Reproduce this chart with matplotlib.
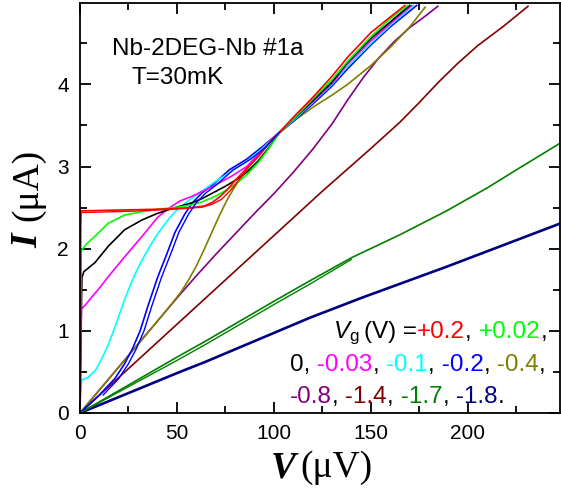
import matplotlib
matplotlib.use('Agg')
import matplotlib.pyplot as plt

plt.rcParams['font.family'] = ['Liberation Sans', 'DejaVu Sans']
plt.rcParams['mathtext.fontset'] = 'custom'
plt.rcParams['mathtext.it'] = 'Liberation Sans:italic'
plt.rcParams['mathtext.rm'] = 'Liberation Sans'

# gate voltages (V) and their colours
vg_labels = ['+0.2', '+0.02', '0', '-0.03', '-0.1', '-0.2', '-0.4', '-0.8', '-1.4', '-1.7', '-1.8']
vg_colors = ['#ff0000', '#00ff00', '#000000', '#ff00ff', '#00ffff', '#0000ff',
             '#808000', '#800080', '#800000', '#008000', '#000080']

# I-V curves: V in uV, I in uA
V_p02 = [0, 0.4, 0.6, 10, 20, 30, 40, 50, 58, 64, 68, 72, 76, 80, 86, 92, 98, 103, 110, 120, 130, 138, 150, 160, 167.5]
I_p02 = [0, 2.3, 2.46, 2.465, 2.47, 2.475, 2.48, 2.49, 2.5, 2.52, 2.56, 2.63, 2.72, 2.83, 2.98, 3.12, 3.3, 3.42, 3.6, 3.84, 4.1, 4.33, 4.63, 4.82, 4.96]
V_p02_b = [0.8, 10, 25, 40, 55, 63, 68, 73, 78, 86]
I_p02_b = [2.44, 2.445, 2.455, 2.47, 2.49, 2.505, 2.54, 2.6, 2.72, 2.96]

V_p002 = [0, 0.3, 0.6, 3, 7.7, 14.6, 23, 32, 40, 49, 57, 63, 70, 76, 81, 86, 92, 98, 103, 110, 120, 130, 138, 150, 160, 169]
I_p002 = [0, 1.0, 1.97, 2.05, 2.15, 2.31, 2.41, 2.45, 2.48, 2.5, 2.53, 2.57, 2.64, 2.72, 2.8, 2.9, 3.05, 3.24, 3.42, 3.58, 3.82, 4.06, 4.28, 4.58, 4.8, 4.96]

V_0 = [0, 0.5, 1, 2, 7.7, 14.6, 23, 32, 40, 49, 58, 63, 68.6, 75, 80, 86, 92, 98, 103, 110, 120, 130, 137.6, 150, 160, 170]
I_0 = [0, 1.0, 1.65, 1.72, 1.83, 2.03, 2.23, 2.35, 2.43, 2.5, 2.56, 2.61, 2.68, 2.76, 2.83, 2.93, 3.07, 3.25, 3.42, 3.58, 3.8, 4.03, 4.26, 4.56, 4.76, 4.96]

V_m003 = [0, 0.3, 0.8, 3, 6, 10, 14.6, 23, 32, 40, 45, 51.5, 58, 68.6, 78, 86, 94, 103, 110, 120, 130, 137.6, 150, 160, 171]
I_m003 = [0, 0.6, 1.27, 1.32, 1.41, 1.52, 1.66, 1.9, 2.15, 2.38, 2.48, 2.58, 2.64, 2.76, 2.88, 3.0, 3.2, 3.42, 3.57, 3.79, 4.01, 4.24, 4.53, 4.74, 4.96]

V_m01 = [0, 0.3, 0.8, 4, 8, 11, 14, 17, 20, 23, 26, 29, 32, 36, 40, 45, 49, 54, 58, 64, 70, 78, 86, 94, 103, 110, 120, 130, 137.6, 150, 160, 172]
I_m01 = [0, 0.2, 0.4, 0.43, 0.52, 0.65, 0.8, 0.98, 1.18, 1.38, 1.56, 1.72, 1.86, 2.03, 2.18, 2.34, 2.45, 2.55, 2.62, 2.72, 2.82, 2.94, 3.06, 3.22, 3.42, 3.56, 3.78, 4.0, 4.21, 4.5, 4.72, 4.96]

V_m02 = [0, 10, 18, 23, 27, 31, 35, 40, 45, 49, 54, 58, 63, 68.6, 77, 86, 94, 103, 110, 120, 130, 137.6, 150, 160, 173.6]
I_m02 = [0, 0.22, 0.42, 0.6, 0.78, 1.0, 1.3, 1.65, 1.95, 2.2, 2.42, 2.56, 2.68, 2.78, 2.96, 3.09, 3.24, 3.42, 3.55, 3.76, 3.98, 4.18, 4.48, 4.7, 4.96]
V_m02_b = [12, 20, 25, 29, 33, 37, 42, 47, 51, 56, 60, 65, 70.5, 79, 88, 96, 103]
I_m02_b = [0.22, 0.42, 0.6, 0.78, 1.0, 1.3, 1.65, 1.95, 2.2, 2.42, 2.56, 2.68, 2.78, 2.96, 3.09, 3.24, 3.42]

V_m04 = [0, 20, 40, 48, 52, 56, 60, 64, 68, 72, 76, 80, 85, 90, 95, 100, 105, 110, 120, 130, 138, 150, 160, 170, 178]
I_m04 = [0, 0.56, 1.12, 1.35, 1.47, 1.62, 1.79, 1.99, 2.2, 2.41, 2.6, 2.76, 2.93, 3.08, 3.22, 3.35, 3.45, 3.55, 3.72, 3.87, 4.0, 4.23, 4.45, 4.7, 4.94]

V_m08 = [0, 20, 40, 50, 60, 70, 80, 90, 100, 110, 120, 130, 138, 146, 154, 162, 170, 178, 184.5]
I_m08 = [0, 0.56, 1.12, 1.4, 1.67, 1.93, 2.18, 2.43, 2.67, 2.93, 3.21, 3.52, 3.81, 4.08, 4.32, 4.52, 4.69, 4.83, 4.95]

V_m14 = [0, 25, 50, 75, 100, 125, 150, 165, 175, 185, 195, 205, 218, 231]
I_m14 = [0, 0.54, 1.08, 1.62, 2.16, 2.7, 3.22, 3.54, 3.78, 4.03, 4.26, 4.47, 4.7, 4.95]

V_m17 = [0, 50, 64.4, 100, 118.6, 140, 165, 189, 210, 223, 248]
I_m17 = [0, 0.68, 0.87, 1.36, 1.61, 1.89, 2.17, 2.46, 2.74, 2.93, 3.29]
V_m17_b = [0, 50, 64.4, 100, 118.6, 140]
I_m17_b = [0, 0.64, 0.83, 1.32, 1.57, 1.87]

V_m18 = [0, 51.5, 64.4, 118.6, 145, 189, 248]
I_m18 = [0, 0.5, 0.62, 1.16, 1.4, 1.78, 2.31]

curves = [(V_p02, I_p02), (V_p002, I_p002), (V_0, I_0), (V_m003, I_m003), (V_m01, I_m01),
          (V_m02, I_m02), (V_m04, I_m04), (V_m08, I_m08), (V_m14, I_m14), (V_m17, I_m17), (V_m18, I_m18)]
second_sweeps = [(V_p02_b, I_p02_b, 0), (V_m02_b, I_m02_b, 5), (V_m17_b, I_m17_b, 9)]

fig = plt.figure(figsize=(5.61, 4.91), dpi=100)
ax = fig.add_axes([80/561, 1-413/491, 480/561, 410/491])

for k in range(len(curves)-1, -1, -1):
    v, i = curves[k]
    lw = 1.9 if k == 10 else 1.2
    ax.plot(v, i, color=vg_colors[k], lw=lw)
for v, i, k in second_sweeps:
    ax.plot(v, i, color=vg_colors[k], lw=1.0)

ax.set_xlim(0, 247.5)
ax.set_ylim(0, 4.99)
ax.set_xticks([0, 50, 100, 150, 200])
ax.set_xticks([25, 75, 125, 175, 225], minor=True)
ax.set_yticks([0, 1, 2, 3, 4])
ax.set_yticks([0.5, 1.5, 2.5, 3.5, 4.5], minor=True)
ax.tick_params(which='both', direction='in', top=True, right=True, width=1.3, labelsize=15)
ax.tick_params(which='major', length=8, pad=8)
ax.tick_params(which='minor', length=5)
for s in ax.spines.values():
    s.set_linewidth(1.3)

# axis labels
fig.text(271/561, 1-477/491, 'V', family='Liberation Serif', style='italic', weight='bold', size=27, va='baseline')
fig.text(300/561, 1-477/491, '(\u03bcV)', family='Liberation Serif', size=27, va='baseline')
fig.text(37/561, 1-248/491, 'I', family='Liberation Serif', style='italic', weight='bold', size=27,
         rotation=90, rotation_mode='anchor', va='baseline', ha='left')
fig.text(37/561, 1-221/491, '(\u03bcA)', family='Liberation Serif', size=27,
         rotation=90, rotation_mode='anchor', va='baseline', ha='left')

fig.text(112/561, 1-55/491, 'Nb-2DEG-Nb #1a', size=17.5, va='baseline')
fig.text(131/561, 1-84/491, 'T=30mK', size=17.5, va='baseline')

# coloured gate-voltage list: first row at fixed x positions, other rows chained
row1 = [(333, '$V_\\mathrm{g}$', 'k'), (364, '(V) =', 'k'), (417, '+0.2', vg_colors[0]),
        (465, ',', 'k'), (479, '+0.02', vg_colors[1]), (541, ',', 'k')]
for x, s, c in row1:
    fig.text(x/561, 1-338/491, s, color=c, size=17.5, va='baseline', ha='left')

rows = [
    (290, 371, [('0,', 'k'), (' -0.03', vg_colors[3]), (',', 'k'), (' -0.1', vg_colors[4]), (',', 'k'),
                (' -0.2', vg_colors[5]), (',', 'k'), (' -0.4', vg_colors[6]), (',', 'k')]),
    (290, 403, [('-0.8', vg_colors[7]), (',', 'k'), (' -1.4', vg_colors[8]), (',', 'k'),
                (' -1.7', vg_colors[9]), (',', 'k'), (' -1.8', vg_colors[10]), ('.', 'k')]),
]
renderer = fig.canvas.get_renderer()
for x0, y0, pieces in rows:
    x = x0
    for s, c in pieces:
        t = fig.text(x/561, 1-y0/491, s, color=c, size=17.5, va='baseline', ha='left')
        x = t.get_window_extent(renderer).x1

fig.savefig('out.png', dpi=100)
